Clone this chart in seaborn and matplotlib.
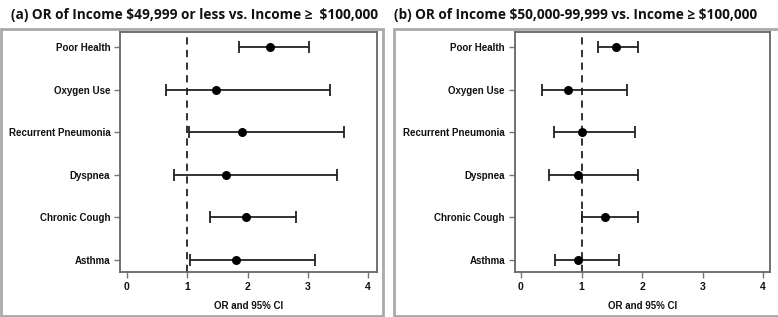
import matplotlib
matplotlib.use("Agg")
import matplotlib.pyplot as plt
import seaborn as sns
import pandas as pd
from matplotlib.patches import Rectangle

sns.set_theme(style="white")
plt.rcParams['font.family'] = ['Liberation Sans', 'DejaVu Sans']

categories = ["Poor Health", "Oxygen Use", "Recurrent Pneumonia", "Dyspnea", "Chronic Cough", "Asthma"]

or_a = [2.37, 1.48, 1.91, 1.65, 1.97, 1.81]
lo_a = [1.85, 0.65, 1.02, 0.78, 1.38, 1.04]
hi_a = [3.02, 3.36, 3.60, 3.49, 2.81, 3.12]

or_b = [1.57, 0.77, 1.01, 0.94, 1.39, 0.95]
lo_b = [1.27, 0.34, 0.55, 0.47, 1.01, 0.56]
hi_b = [1.94, 1.76, 1.88, 1.93, 1.93, 1.62]

titles = ["(a) OR of Income \\$49,999 or less vs. Income \u2265  \\$100,000",
          "(b) OR of Income \\$50,000-99,999 vs. Income \u2265 \\$100,000"]
xticks = [0, 1, 2, 3, 4]
xlabel = "OR and 95% CI"

W, H = 778, 317
fig = plt.figure(figsize=(W / 100, H / 100), dpi=100)

for (x0, x1) in [(1, 383), (394, 779)]:
    fig.patches.append(Rectangle((x0 / W, 1 - 316 / H), (x1 - x0) / W, (316 - 29) / H,
                                 transform=fig.transFigure, fill=False,
                                 edgecolor="#a9a9a9", linewidth=2.0, zorder=0))

axes_px = [(120, 377), (514.7, 769.7)]
title_x = [195, 576]
data = [(or_a, lo_a, hi_a), (or_b, lo_b, hi_b)]
xlims = [(-0.116, 4.146), (-0.104, 4.11)]

for i in range(2):
    l, r = axes_px[i]
    ax = fig.add_axes([l / W, 1 - 272 / H, (r - l) / W, (272 - 32) / H])
    o, lo, hi = data[i]
    df = pd.DataFrame({"cat": categories, "or": o, "lo": lo, "hi": hi})
    df["y"] = range(len(categories))
    ax.axvline(1, color="#222222", linestyle=(0, (4, 3)), linewidth=1.3, zorder=1)
    ax.errorbar(df["or"], df["y"], xerr=[df["or"] - df["lo"], df["hi"] - df["or"]],
                fmt="none", ecolor="#222222", elinewidth=1.3, capsize=4, capthick=1.3, zorder=2)
    sns.scatterplot(data=df, x="or", y="y", ax=ax, color="black", s=42,
                    edgecolor="black", linewidth=0, zorder=3, legend=False)
    ax.set_ylim(5.28, -0.35)
    ax.set_xlim(*xlims[i])
    ax.set_yticks(df["y"])
    ax.set_yticklabels(categories, fontsize=7, fontweight="bold", color="#111111")
    ax.set_xticks(xticks)
    ax.set_xticklabels([str(t) for t in xticks], fontsize=7.5, fontweight="bold", color="#111111")
    ax.set_xlabel(xlabel, fontsize=7, fontweight="bold", color="#111111", labelpad=7)
    ax.set_ylabel("")
    ax.tick_params(axis="both", which="both", length=4, width=1, color="#777777",
                   direction="out", left=True, bottom=True, pad=3)
    for s in ax.spines.values():
        s.set_color("#666666")
        s.set_linewidth(1.3)
    fig.text(title_x[i] / W, 1 - 15 / H, titles[i], ha="center", va="center",
             fontsize=9.8, fontweight="bold", family=["Open Sans", "DejaVu Sans"], color="#111111")

fig.savefig("out.png", dpi=100)
